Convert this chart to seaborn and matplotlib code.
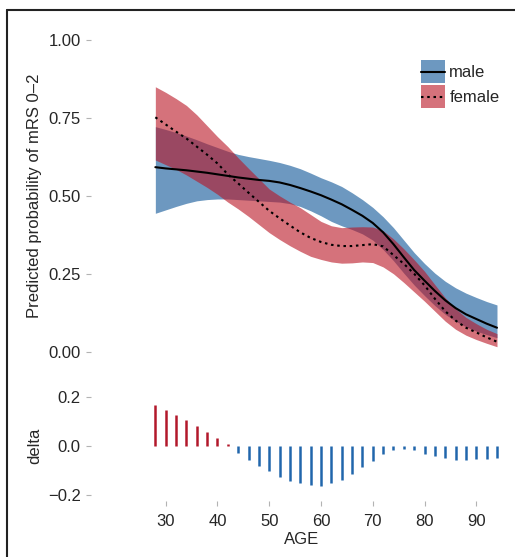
"""
Predicted probability of mRS 0-2 by age and sex, with female-male delta
"""

import matplotlib
matplotlib.use("Agg")
import matplotlib.pyplot as plt
import pandas as pd
import seaborn as sns
from matplotlib.legend_handler import HandlerBase
from matplotlib.lines import Line2D
from matplotlib.patches import Patch, Rectangle

age = [28, 30, 32, 34, 36, 38, 40, 42, 44, 46, 48, 50, 52, 54, 56, 58, 60,
       62, 64, 66, 68, 70, 72, 74, 76, 78, 80, 82, 84, 86, 88, 90, 92, 94]

male_fit = [0.592, 0.588, 0.585, 0.582, 0.578, 0.574, 0.569, 0.564, 0.559,
            0.555, 0.551, 0.548, 0.543, 0.535, 0.525, 0.514, 0.502, 0.488,
            0.473, 0.455, 0.436, 0.413, 0.383, 0.345, 0.303, 0.262, 0.228,
            0.195, 0.165, 0.140, 0.120, 0.105, 0.090, 0.077]
male_lo = [0.444, 0.455, 0.466, 0.476, 0.484, 0.488, 0.490, 0.490, 0.488,
           0.486, 0.484, 0.482, 0.480, 0.475, 0.466, 0.452, 0.436, 0.418,
           0.404, 0.392, 0.378, 0.358, 0.328, 0.292, 0.252, 0.214, 0.180,
           0.148, 0.120, 0.098, 0.080, 0.066, 0.055, 0.045]
male_hi = [0.722, 0.713, 0.703, 0.692, 0.680, 0.667, 0.655, 0.643, 0.633,
           0.626, 0.620, 0.614, 0.607, 0.598, 0.587, 0.573, 0.558, 0.545,
           0.530, 0.510, 0.488, 0.463, 0.433, 0.398, 0.358, 0.318, 0.283,
           0.252, 0.226, 0.205, 0.188, 0.174, 0.161, 0.150]

female_fit = [0.752, 0.729, 0.706, 0.684, 0.658, 0.632, 0.604, 0.569, 0.540,
              0.510, 0.481, 0.452, 0.428, 0.405, 0.383, 0.365, 0.352, 0.343,
              0.339, 0.339, 0.342, 0.345, 0.338, 0.310, 0.282, 0.250, 0.213,
              0.170, 0.130, 0.100, 0.077, 0.062, 0.046, 0.032]
female_lo = [0.615, 0.600, 0.585, 0.567, 0.547, 0.527, 0.505, 0.480, 0.458,
             0.434, 0.408, 0.382, 0.360, 0.340, 0.322, 0.306, 0.296, 0.288,
             0.284, 0.285, 0.288, 0.286, 0.272, 0.250, 0.222, 0.192, 0.162,
             0.130, 0.098, 0.072, 0.053, 0.039, 0.027, 0.016]
female_hi = [0.850, 0.832, 0.812, 0.790, 0.760, 0.725, 0.690, 0.658, 0.622,
             0.588, 0.555, 0.522, 0.500, 0.480, 0.462, 0.440, 0.418, 0.404,
             0.398, 0.400, 0.401, 0.400, 0.388, 0.362, 0.330, 0.295, 0.258,
             0.215, 0.173, 0.138, 0.110, 0.090, 0.072, 0.058]

delta = [0.166, 0.146, 0.126, 0.104, 0.080, 0.056, 0.030, 0.006, -0.030,
         -0.059, -0.081, -0.105, -0.127, -0.143, -0.154, -0.161, -0.163,
         -0.154, -0.140, -0.116, -0.088, -0.061, -0.035, -0.018, -0.014,
         -0.019, -0.032, -0.042, -0.051, -0.057, -0.058, -0.056, -0.053,
         -0.049]

prob_ticks = [0.0, 0.25, 0.5, 0.75, 1.0]
prob_labels = ["0.00", "0.25", "0.50", "0.75", "1.00"]
delta_ticks = [-0.2, 0.0, 0.2]
delta_labels = ["\u22120.2", "0.0", "0.2"]
age_ticks = [30, 40, 50, 60, 70, 80, 90]

BAND_BLUE = "#2868a2"
BAND_RED = "#b91423"
BAR_BLUE = "#2166AC"
BAR_RED = "#B2182B"
TICK = "#b3b3b3"
TEXT = "#262626"
DOTS = (0, (1.2, 1.8))


class BandHandler(HandlerBase):
    """legend key: filled box with the line centred on it"""

    def create_artists(self, legend, orig_handle, xdescent, ydescent,
                       width, height, fontsize, trans):
        patch, line = orig_handle
        rect = Rectangle((-xdescent, -ydescent), width, height,
                         facecolor=patch.get_facecolor(), lw=0, transform=trans)
        yc = -ydescent + height / 2
        ln = Line2D([-xdescent, -xdescent + width], [yc, yc])
        ln.update_from(line)
        ln.set_transform(trans)
        return [rect, ln]


sns.set_theme(style="white")
plt.rcParams["font.family"] = ["Liberation Sans", "DejaVu Sans"]

W, H = 515, 557
fig = plt.figure(figsize=(W / 100, H / 100), dpi=100)


def box(left, top, right, bottom):
    return [left / W, 1 - bottom / H, (right - left) / W, (bottom - top) / H]


ax = fig.add_axes(box(91, 24.4, 512, 367.3))
axd = fig.add_axes(box(91, 390.6, 512, 500.8), sharex=ax)

# confidence bands
ax.fill_between(age, male_lo, male_hi, color=BAND_BLUE, alpha=0.68, lw=0)
ax.fill_between(age, female_lo, female_hi, color=BAND_RED, alpha=0.6, lw=0)

n = len(age)
fits = pd.DataFrame({
    "age": age + age,
    "prob": male_fit + female_fit,
    "sex": ["male"] * n + ["female"] * n,
})
sns.lineplot(data=fits, x="age", y="prob", hue="sex", style="sex",
             palette={"male": "black", "female": "black"},
             dashes={"male": "", "female": DOTS[1]},
             linewidth=1.5, errorbar=None, legend=False, ax=ax)

# delta bars
bar_colors = [BAR_RED if d > 0 else BAR_BLUE for d in delta]
axd.vlines(age, 0, delta, colors=bar_colors, linewidth=1.8)

ax.set_xlim(15.57, 96.9)
ax.set_ylim(-0.05, 1.05)
ax.set_yticks(prob_ticks)
ax.set_yticklabels(prob_labels)
ax.set_xlabel("")
ax.set_ylabel("Predicted probability of mRS 0\u20132", fontsize=12, color=TEXT)
ax.tick_params(axis="x", bottom=False, labelbottom=False)

axd.set_ylim(-0.225, 0.225)
axd.set_yticks(delta_ticks)
axd.set_yticklabels(delta_labels)
axd.set_xticks(age_ticks)
axd.set_xlabel("AGE", fontsize=12, color=TEXT, labelpad=2)
axd.set_ylabel("delta", fontsize=12, color=TEXT)

for a in (ax, axd):
    for sp in a.spines.values():
        sp.set_visible(False)
    a.tick_params(axis="y", left=True, length=3.6, width=0.8, color=TICK,
                  pad=3.8, labelsize=12, labelcolor=TEXT)
    a.yaxis.set_label_coords(-0.1164, 0.5)
axd.tick_params(axis="x", bottom=True, length=3.9, width=0.8, color=TICK,
                pad=5.5, labelsize=12, labelcolor=TEXT)

handles = [
    (Patch(facecolor=BAND_BLUE, alpha=0.68), Line2D([], [], color="black", lw=1.5)),
    (Patch(facecolor=BAND_RED, alpha=0.6),
     Line2D([], [], color="black", lw=1.5, linestyle=DOTS)),
]
fig.legend(handles, ["male", "female"], loc="upper left",
           handler_map={tuple: BandHandler()},
           bbox_to_anchor=(420.7 / W, 1 - 60 / H), bbox_transform=fig.transFigure,
           frameon=False, fontsize=12, handlelength=1.46, handleheight=1.774,
           labelspacing=0.1, handletextpad=0.26, borderpad=0, borderaxespad=0,
           labelcolor=TEXT)

# outer frame (left and top edges visible in the crop)
fig.add_artist(Line2D([7 / W, 7 / W], [0, 1 - 9.5 / H], transform=fig.transFigure,
                      color="#222222", lw=1.5))
fig.add_artist(Line2D([7 / W, 1], [1 - 9.5 / H, 1 - 9.5 / H], transform=fig.transFigure,
                      color="#222222", lw=1.5))

fig.savefig("out.png", dpi=100)
